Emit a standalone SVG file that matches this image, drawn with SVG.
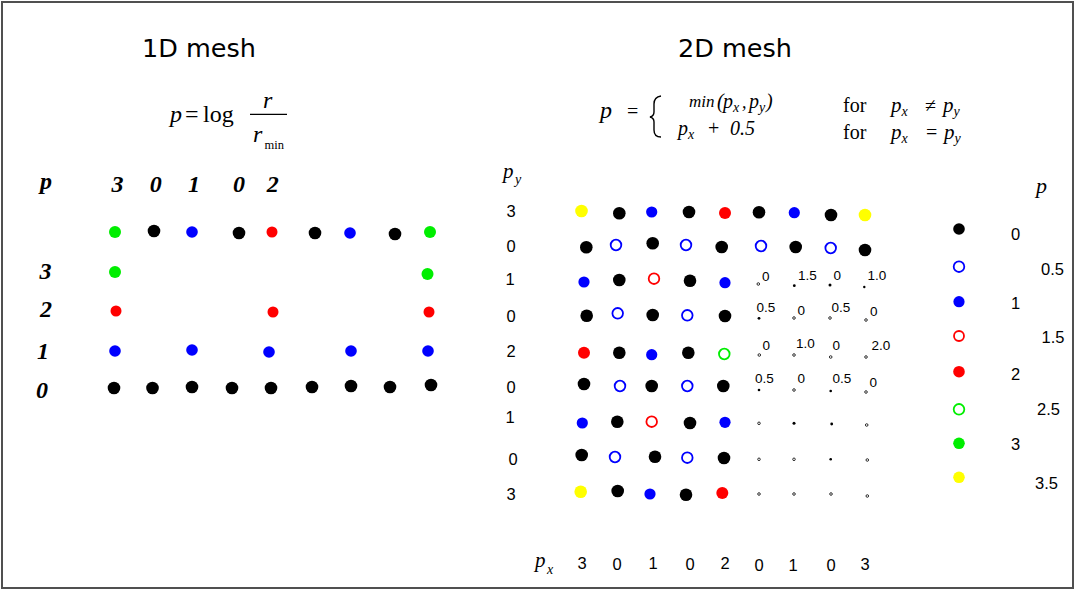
<svg xmlns="http://www.w3.org/2000/svg" width="1076" height="590" viewBox="0 0 1076 590">
<style>
.k{fill:#000}.b{fill:#0000ff}.r{fill:#ff0000}.g{fill:#00ee00}.y{fill:#ffff00}
.ob{fill:#fff;stroke:#0000ff;stroke-width:1.8}.or{fill:#fff;stroke:#ff0000;stroke-width:1.8}.og{fill:#fff;stroke:#00ee00;stroke-width:1.8}
.t{fill:#fff;stroke:#000;stroke-width:0.8}.tf{fill:#000}
.title{font-family:"DejaVu Sans",sans-serif;font-size:25.5px;fill:#000}
.lab{font-family:"Liberation Sans",Arial,sans-serif;font-size:16.5px;fill:#000}
.sm{font-family:"Liberation Sans",Arial,sans-serif;font-size:13.5px;fill:#000}
.bi{font-family:"Liberation Serif","Times New Roman",serif;font-weight:bold;font-style:italic;font-size:24px;fill:#000}
.m{font-family:"Liberation Serif","Times New Roman",serif;fill:#000}
.i{font-style:italic}
</style>
<rect x="2" y="2" width="1071" height="586" fill="#fff" stroke="#505050" stroke-width="2"/>

<g id="mesh1d">
<text class="title" x="142" y="57">1D mesh</text>
<g id="formula1d">
<text class="m i" x="170" y="122" font-size="24">p</text>
<text class="m" x="185" y="122" font-size="24">=</text>
<text class="m" x="203" y="122" font-size="24">log</text>
<line x1="250" y1="114.3" x2="287" y2="114.3" stroke="#000" stroke-width="1.2"/>
<text class="m i" x="263" y="108" font-size="24">r</text>
<text class="m i" x="253" y="142" font-size="24">r</text>
<text class="m" x="264.5" y="148.5" font-size="12.5">min</text>
</g>
<g id="labels1d">
<text class="bi" x="40" y="189">p</text>
<text class="bi" x="117.5" y="192" text-anchor="middle">3</text>
<text class="bi" x="155.8" y="192" text-anchor="middle">0</text>
<text class="bi" x="194" y="192" text-anchor="middle">1</text>
<text class="bi" x="239" y="192" text-anchor="middle">0</text>
<text class="bi" x="272.7" y="192" text-anchor="middle">2</text>
<text class="bi" x="45.5" y="279" text-anchor="middle">3</text>
<text class="bi" x="46" y="317" text-anchor="middle">2</text>
<text class="bi" x="43" y="359" text-anchor="middle">1</text>
<text class="bi" x="42" y="398" text-anchor="middle">0</text>
</g>
<g id="dots1d">
<circle class="g" cx="115" cy="232" r="6"/>
<circle class="k" cx="154" cy="231" r="6.3"/>
<circle class="b" cx="192" cy="232" r="5.8"/>
<circle class="k" cx="239" cy="233" r="6.3"/>
<circle class="r" cx="272" cy="232" r="5.5"/>
<circle class="k" cx="315" cy="233" r="6.3"/>
<circle class="b" cx="350" cy="233" r="5.8"/>
<circle class="k" cx="395" cy="234" r="6.3"/>
<circle class="g" cx="430" cy="232" r="6"/>
<circle class="g" cx="115" cy="272" r="6"/>
<circle class="g" cx="427.5" cy="274" r="6"/>
<circle class="r" cx="116" cy="311" r="5.5"/>
<circle class="r" cx="273" cy="312" r="5.5"/>
<circle class="r" cx="429" cy="312" r="5.5"/>
<circle class="b" cx="115" cy="351" r="5.8"/>
<circle class="b" cx="192" cy="350" r="5.8"/>
<circle class="b" cx="269" cy="352" r="5.8"/>
<circle class="b" cx="351" cy="351" r="5.8"/>
<circle class="b" cx="428" cy="351" r="5.8"/>
<circle class="k" cx="114" cy="388" r="6.3"/>
<circle class="k" cx="152.5" cy="388" r="6.3"/>
<circle class="k" cx="192" cy="387" r="6.3"/>
<circle class="k" cx="232" cy="388" r="6.3"/>
<circle class="k" cx="271" cy="388" r="6.3"/>
<circle class="k" cx="312" cy="387" r="6.3"/>
<circle class="k" cx="351" cy="386" r="6.3"/>
<circle class="k" cx="390" cy="387" r="6.3"/>
<circle class="k" cx="431" cy="385" r="6.3"/>
</g>
</g>

<g id="mesh2d">
<text class="title" x="678" y="57">2D mesh</text>
<g id="formula2d">
<text class="m i" x="600" y="118" font-size="24">p</text>
<text class="m" x="627" y="118" font-size="20">=</text>
<path d="M661,96 Q654,97 654,104 L654,112 Q654,116 650,117 Q654,118 654,122 L654,130 Q654,137 661,137" fill="none" stroke="#000" stroke-width="1.4"/>
<text class="m i" x="689" y="107" font-size="17">min</text>
<text class="m i" x="717" y="108" font-size="20">(</text>
<text class="m i" x="723" y="108" font-size="20">p</text>
<text class="m i" x="733" y="112" font-size="14">x</text>
<text class="m i" x="742" y="108" font-size="18">,</text>
<text class="m i" x="749" y="108" font-size="20">p</text>
<text class="m i" x="759" y="112" font-size="14">y</text>
<text class="m i" x="766" y="108" font-size="20">)</text>
<text class="m i" x="678" y="135" font-size="20">p</text>
<text class="m i" x="688" y="139" font-size="14">x</text>
<text class="m" x="708" y="135" font-size="20">+</text>
<text class="m i" x="730" y="135" font-size="20">0.5</text>
<text class="m" x="843" y="112" font-size="20">for</text>
<text class="m i" x="891" y="112" font-size="21">p</text>
<text class="m i" x="901.5" y="116" font-size="14">x</text>
<text class="m" x="925" y="112" font-size="20">≠</text>
<text class="m i" x="943" y="112" font-size="21">p</text>
<text class="m i" x="953.5" y="116" font-size="14">y</text>
<text class="m" x="843" y="139" font-size="20">for</text>
<text class="m i" x="891" y="139" font-size="21">p</text>
<text class="m i" x="901.5" y="143" font-size="14">x</text>
<text class="m" x="926" y="139" font-size="20">=</text>
<text class="m i" x="944" y="139" font-size="21">p</text>
<text class="m i" x="954.5" y="143" font-size="14">y</text>
</g>
<g id="axes2d">
<text class="m i" x="503" y="178" font-size="21">p</text>
<text class="m i" x="515" y="184" font-size="14">y</text>
<text class="lab" x="511" y="217" text-anchor="middle">3</text>
<text class="lab" x="511" y="252" text-anchor="middle">0</text>
<text class="lab" x="510" y="285" text-anchor="middle">1</text>
<text class="lab" x="511" y="322" text-anchor="middle">0</text>
<text class="lab" x="511" y="357" text-anchor="middle">2</text>
<text class="lab" x="511" y="393" text-anchor="middle">0</text>
<text class="lab" x="510" y="423" text-anchor="middle">1</text>
<text class="lab" x="513" y="465" text-anchor="middle">0</text>
<text class="lab" x="511" y="500" text-anchor="middle">3</text>
<text class="m i" x="535" y="567" font-size="21">p</text>
<text class="m i" x="547" y="574" font-size="14">x</text>
<text class="lab" x="582" y="569" text-anchor="middle">3</text>
<text class="lab" x="617" y="570" text-anchor="middle">0</text>
<text class="lab" x="653" y="569" text-anchor="middle">1</text>
<text class="lab" x="690" y="570" text-anchor="middle">0</text>
<text class="lab" x="725" y="569" text-anchor="middle">2</text>
<text class="lab" x="759" y="571" text-anchor="middle">0</text>
<text class="lab" x="793" y="571" text-anchor="middle">1</text>
<text class="lab" x="831" y="571" text-anchor="middle">0</text>
<text class="lab" x="865" y="570" text-anchor="middle">3</text>
</g>
<g id="grid2d">
<circle class="y" cx="581.5" cy="211" r="6.3"/>
<circle class="k" cx="619.3" cy="213.3" r="6.3"/>
<circle class="b" cx="651.7" cy="212" r="5.6"/>
<circle class="k" cx="689" cy="212" r="6.3"/>
<circle class="r" cx="725" cy="213" r="6"/>
<circle class="k" cx="759" cy="212.3" r="6.3"/>
<circle class="b" cx="794.3" cy="212.7" r="5.6"/>
<circle class="k" cx="831" cy="215" r="6.3"/>
<circle class="y" cx="865" cy="215" r="6.3"/>

<circle class="k" cx="586.3" cy="247.3" r="6.3"/>
<circle class="ob" cx="616" cy="245" r="5.3"/>
<circle class="k" cx="652.7" cy="243.3" r="6.3"/>
<circle class="ob" cx="686" cy="245" r="5.3"/>
<circle class="k" cx="721.7" cy="247" r="6.3"/>
<circle class="ob" cx="761" cy="246" r="5.3"/>
<circle class="k" cx="795.7" cy="247" r="6.3"/>
<circle class="ob" cx="830.7" cy="248" r="5.3"/>
<circle class="k" cx="865" cy="250" r="6.3"/>

<circle class="b" cx="584" cy="282" r="5.6"/>
<circle class="k" cx="619.3" cy="280" r="6.3"/>
<circle class="or" cx="654" cy="278.7" r="5.3"/>
<circle class="k" cx="690" cy="280.7" r="6.3"/>
<circle class="b" cx="725" cy="282.7" r="5.6"/>

<circle class="k" cx="586.7" cy="315.7" r="6.3"/>
<circle class="ob" cx="617.7" cy="313.3" r="5.3"/>
<circle class="k" cx="652.7" cy="315" r="6.3"/>
<circle class="ob" cx="687.3" cy="315.3" r="5.3"/>
<circle class="k" cx="725" cy="316" r="6.3"/>

<circle class="r" cx="584" cy="352.7" r="6"/>
<circle class="k" cx="619.3" cy="352.7" r="6.3"/>
<circle class="b" cx="651.7" cy="354.7" r="5.6"/>
<circle class="k" cx="688.3" cy="352.7" r="6.3"/>
<circle class="og" cx="724.3" cy="354" r="5.3"/>

<circle class="k" cx="584" cy="384" r="6.3"/>
<circle class="ob" cx="620" cy="386" r="5.3"/>
<circle class="k" cx="651.7" cy="386" r="6.3"/>
<circle class="ob" cx="687.3" cy="386" r="5.3"/>
<circle class="k" cx="723.3" cy="386" r="6.3"/>

<circle class="b" cx="582.3" cy="423" r="5.6"/>
<circle class="k" cx="617.3" cy="421.7" r="6.3"/>
<circle class="or" cx="651.7" cy="421.7" r="5.3"/>
<circle class="k" cx="690" cy="423" r="6.3"/>
<circle class="b" cx="725" cy="422.3" r="5.6"/>

<circle class="k" cx="581.7" cy="455" r="6.3"/>
<circle class="ob" cx="615" cy="457" r="5.3"/>
<circle class="k" cx="655" cy="456.7" r="6.3"/>
<circle class="ob" cx="687.3" cy="457.7" r="5.3"/>
<circle class="k" cx="724" cy="458" r="6.3"/>

<circle class="y" cx="580.7" cy="491.7" r="6.3"/>
<circle class="k" cx="617.7" cy="491" r="6.3"/>
<circle class="b" cx="650" cy="494" r="5.6"/>
<circle class="k" cx="686" cy="494.7" r="6.3"/>
<circle class="r" cx="722.3" cy="493" r="6"/>
</g>
<g id="tiny2d">
<circle class="t" cx="758.3" cy="284" r="1.3"/>
<circle class="tf" cx="794.3" cy="285.7" r="1.4"/>
<circle class="tf" cx="830" cy="285" r="1.5"/>
<circle class="tf" cx="864.3" cy="287" r="1.2"/>
<circle class="tf" cx="759" cy="318.3" r="1.4"/>
<circle class="t" cx="794" cy="318" r="1.3"/>
<circle class="t" cx="830" cy="318" r="1.3"/>
<circle class="t" cx="866" cy="320" r="1.3"/>
<circle class="t" cx="759.3" cy="355" r="1.3"/>
<circle class="t" cx="794" cy="355" r="1.3"/>
<circle class="t" cx="830.7" cy="357" r="1.3"/>
<circle class="t" cx="866" cy="357" r="1.3"/>
<circle class="tf" cx="759" cy="390" r="1.3"/>
<circle class="t" cx="794" cy="390" r="1.3"/>
<circle class="tf" cx="830.7" cy="391" r="1.3"/>
<circle class="t" cx="866" cy="392" r="1.3"/>
<circle class="t" cx="759" cy="423.3" r="1.3"/>
<circle class="tf" cx="794" cy="423.3" r="1.5"/>
<circle class="tf" cx="831.7" cy="424" r="1.4"/>
<circle class="t" cx="866.7" cy="425" r="1.3"/>
<circle class="t" cx="759" cy="459.3" r="1.3"/>
<circle class="t" cx="794" cy="459.3" r="1.3"/>
<circle class="tf" cx="830.7" cy="459.3" r="1.3"/>
<circle class="t" cx="867.3" cy="460" r="1.3"/>
<circle class="t" cx="759" cy="494" r="1.3"/>
<circle class="t" cx="794" cy="494" r="1.3"/>
<circle class="t" cx="831" cy="494" r="1.3"/>
<circle class="t" cx="867.3" cy="496" r="1.3"/>
<text class="sm" x="762" y="281">0</text>
<text class="sm" x="798" y="280">1.5</text>
<text class="sm" x="833.5" y="279.5">0</text>
<text class="sm" x="867.5" y="280">1.0</text>
<text class="sm" x="756.5" y="312">0.5</text>
<text class="sm" x="797.5" y="315">0</text>
<text class="sm" x="831.5" y="312">0.5</text>
<text class="sm" x="870" y="316">0</text>
<text class="sm" x="762.5" y="349.5">0</text>
<text class="sm" x="796" y="348">1.0</text>
<text class="sm" x="832.5" y="350">0</text>
<text class="sm" x="871.5" y="350">2.0</text>
<text class="sm" x="755" y="383">0.5</text>
<text class="sm" x="797.5" y="383">0</text>
<text class="sm" x="832.5" y="383">0.5</text>
<text class="sm" x="869.5" y="387">0</text>
</g>
</g>

<g id="legend">
<text class="m i" x="1036" y="193" font-size="22">p</text>
<circle class="k" cx="959" cy="229" r="5.8"/>
<circle class="ob" cx="959" cy="266.7" r="5.3"/>
<circle class="b" cx="959" cy="301.7" r="5.6"/>
<circle class="or" cx="959" cy="336" r="5"/>
<circle class="r" cx="959" cy="371.7" r="5.8"/>
<circle class="og" cx="959" cy="409.3" r="5.3"/>
<circle class="g" cx="959" cy="443.3" r="5.8"/>
<circle class="y" cx="959" cy="477.3" r="5.8"/>
<text class="lab" x="1015.7" y="240" text-anchor="middle">0</text>
<text class="lab" x="1041" y="275">0.5</text>
<text class="lab" x="1015.7" y="308.5" text-anchor="middle">1</text>
<text class="lab" x="1041.5" y="342.5">1.5</text>
<text class="lab" x="1015.7" y="380" text-anchor="middle">2</text>
<text class="lab" x="1037" y="415">2.5</text>
<text class="lab" x="1015.7" y="450" text-anchor="middle">3</text>
<text class="lab" x="1035" y="488.5">3.5</text>
</g>
</svg>
